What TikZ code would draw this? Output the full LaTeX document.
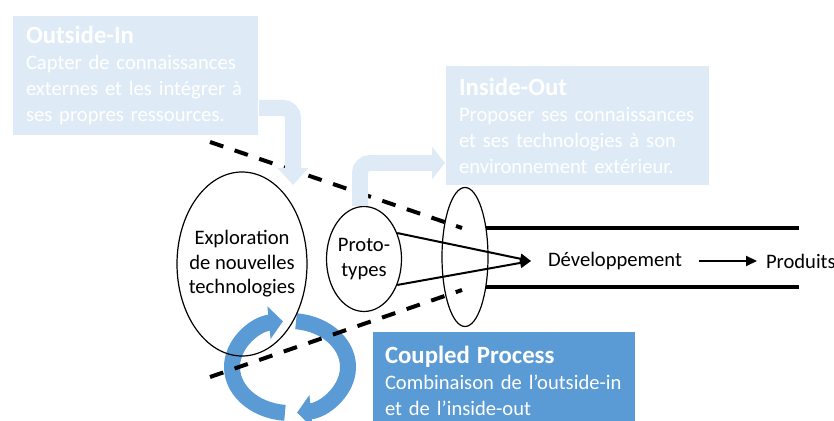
\documentclass[tikz,border=0pt]{standalone}
\usepackage{fontspec}
\setmainfont{Carlito}
\usepackage{tikz}
\usetikzlibrary{positioning, arrows.meta, shapes.geometric}
\definecolor{paleblue}{HTML}{DEEBF7}
\definecolor{ringblue}{HTML}{5B9BD5}
\tikzset{
every picture/.style={
line width=1pt
}}
\tikzset{
  blob/.style={ellipse, draw, line width=0.6pt, inner sep=0pt},
  lbl/.style={font=\fontsize{10.3}{12.3}\selectfont, align=center},
  infobox/.style={anchor=north west, font=\fontsize{10.3}{13}\selectfont, align=left, text=white, inner ysep=0pt},
  bend arrow/.style={color=paleblue, line width=8pt, rounded corners=5pt},
  funnel/.style={dash pattern=on 7pt off 6pt, line width=2pt},
  flow/.style={-{Triangle[length=5.5pt,width=5pt]}, line width=1pt}
}
\newcommand{\boxtitle}[1]{{\fontsize{12.4}{13.5}\selectfont\bfseries #1}}
\newcommand{\fillline}[1]{\makebox[\linewidth][s]{#1}}

\begin{document}
\begin{tikzpicture}[x=0.5pt, y=-0.5pt]
  \useasboundingbox (0,0) rectangle (834,421);
  \clip (0,0) rectangle (834,421);

  % the coupled cycle
  \coordinate (ring) at (290,367);
  \draw [ringblue, line width=8pt, -{Triangle[length=7pt,width=16pt]}]
    (ring) ++(95:58 and 46) arc [start angle=95, end angle=263, x radius=58, y radius=46];
  \draw [ringblue, line width=8pt, -{Triangle[length=7pt,width=16pt]}]
    (ring) ++(-84:58 and 46) arc [start angle=-84, end angle=83, x radius=58, y radius=46];

  \draw [funnel] (210,142) -- (462,228);
  \draw [funnel] (210,377) -- (462,290);

  \node [blob, minimum width=65pt, minimum height=92pt] (explo) at (242,264) {};
  \node [blob, minimum width=37.5pt, minimum height=52.5pt] (proto) at (364,259) {};
  \node [blob, minimum width=23pt, minimum height=69.5pt] (gate) at (465,257) {};

  \node [infobox, fill=paleblue, text width=109.5pt, inner xsep=6.5pt, minimum height=59.5pt] (outin) at (12,15)
    {\boxtitle{Outside-In}\\ \fillline{Capter de connaissances}\\ \fillline{externes et les intégrer à}\\ ses propres ressources.};
  \node [infobox, fill=paleblue, text width=118.5pt, inner xsep=6.5pt, minimum height=59.5pt] (inout) at (445,65)
    {\boxtitle{Inside-Out}\\ \fillline{Proposer ses connaissances}\\ \fillline{et ses technologies à son}\\ environnement extérieur.};

  \coordinate (oitip) at (293,185);
  \draw [bend arrow, -{Triangle[length=8.5pt,width=15pt]}] ([yshift=14pt]outin.south east) -| (oitip);
  \draw [bend arrow, -{Triangle[length=6.5pt,width=16pt]}] ([xshift=-2pt]proto.north) |- ([yshift=11.5pt]inout.south west);

  \node [lbl] (explotxt) at (explo) {Exploration\\de nouvelles\\technologies};
  \node [lbl] (prototxt) at (proto) {Proto-\\types};

  \foreach \y in {228,287}
    \draw [line width=2pt] (486,\y) -- (799,\y);

  \node [lbl, inner xsep=8pt] (dev) at (615,261) {Développement};
  \node [lbl, inner xsep=4pt, anchor=west] (prod) at (757,261) {Produits};
  \draw [flow] (proto.38) -- (dev.west);
  \draw [flow] (proto.-38) -- (dev.west);
  \draw [flow] (dev.east) -- (prod.west);

  \node [infobox, fill=ringblue, text width=119pt, inner xsep=6pt, minimum height=49pt] (coupled) at (372,331)
    {\boxtitle{Coupled Process}\\ Combinaison de l’outside-in\\ et de l’inside-out};
\end{tikzpicture}
\end{document}
